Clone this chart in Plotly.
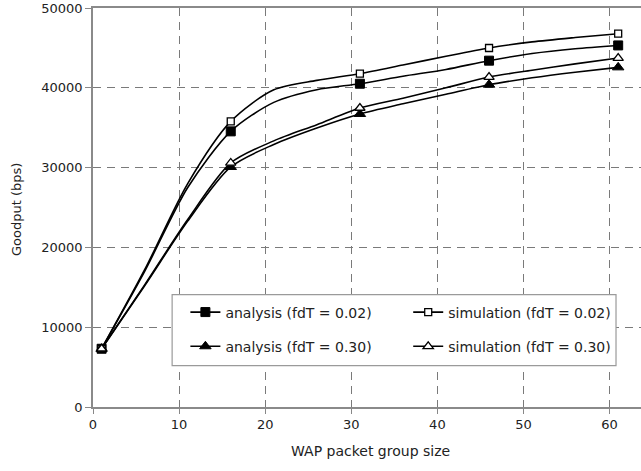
import plotly.graph_objects as go

# ---- data ----
x_line = [1, 6, 11, 16, 21, 26, 31, 36, 41, 46, 51, 56, 61]
x_mark = [1, 16, 31, 46, 61]
mark_idx = [0, 3, 6, 9, 12]

analysis_002 = [7300, 17000, 27500, 34540, 38170, 39760, 40510, 41450, 42300, 43400, 44300, 44900, 45310]
simulation_002 = [7300, 17200, 28000, 35790, 39750, 40930, 41770, 42850, 43950, 44990, 45750, 46300, 46780]
analysis_030 = [7300, 15200, 23300, 30080, 32900, 34960, 36720, 38000, 39200, 40390, 41250, 41950, 42560]
simulation_030 = [7300, 15300, 23500, 30580, 33350, 35380, 37470, 38700, 40000, 41350, 42200, 43000, 43730]

series_names = ["analysis (fdT = 0.02)", "simulation (fdT = 0.02)",
                "analysis (fdT = 0.30)", "simulation (fdT = 0.30)"]
x_ticks = [0, 10, 20, 30, 40, 50, 60]
y_ticks = [0, 10000, 20000, 30000, 40000, 50000]
y_ticktext = ["0", "10000", "20000", "30000", "40000", "50000"]

FONT = "DejaVu Sans"
series = [analysis_002, simulation_002, analysis_030, simulation_030]
markers = [
    dict(symbol="square", size=9, color="black", line=dict(color="black", width=1)),
    dict(symbol="square", size=7, color="white", line=dict(color="black", width=1.3)),
    dict(symbol="triangle-up", size=10, color="black", line=dict(color="black", width=1)),
    dict(symbol="triangle-up", size=9, color="white", line=dict(color="black", width=1.3)),
]
legends = ["legend", "legend2", "legend", "legend2"]

fig = go.Figure()
for vals in series:
    fig.add_trace(go.Scatter(x=x_line, y=vals, mode="lines",
                             line=dict(color="black", width=1.6, shape="spline", smoothing=0.8),
                             showlegend=False, hoverinfo="skip"))
for vals, mk in zip(series, markers):
    fig.add_trace(go.Scatter(x=x_mark, y=[vals[i] for i in mark_idx], mode="markers",
                             marker=mk, showlegend=False))
for i, (name, mk, lg) in enumerate(zip(series_names, markers, legends)):
    fig.add_trace(go.Scatter(x=[None], y=[None], mode="lines+markers", name=name,
                             marker=mk, line=dict(color="black", width=1.6),
                             legend=lg, legendgroup=f"g{i}"))

grid = dict(showgrid=True, gridcolor="#7a7a7a", gridwidth=1, griddash="8px,6px")
fig.update_layout(
    width=641, height=471,
    margin=dict(l=93, r=0, t=8, b=64),
    paper_bgcolor="white", plot_bgcolor="white",
    font=dict(family=FONT, size=13, color="#222"),
    xaxis=dict(range=[0, 63.65], tickvals=x_ticks, ticks="outside", ticklen=5,
               tickcolor="#888", linecolor="#8a8a8a", linewidth=1.5, mirror=True,
               showline=True, zeroline=False, tickfont=dict(size=13), **grid),
    yaxis=dict(range=[0, 50000], tickvals=y_ticks, ticktext=y_ticktext, ticks="outside", ticklen=6,
               tickcolor="#888", linecolor="#8a8a8a", linewidth=1.5, showline=True,
               zeroline=False, tickfont=dict(size=13), **grid),
    legend=dict(x=0.1686, y=0.277, xanchor="left", yanchor="top",
                bgcolor="rgba(0,0,0,0)", borderwidth=0, tracegroupgap=13,
                font=dict(family=FONT, size=14, color="#222")),
    legend2=dict(x=0.5752, y=0.277, xanchor="left", yanchor="top",
                 bgcolor="rgba(0,0,0,0)", borderwidth=0, tracegroupgap=13,
                 font=dict(family=FONT, size=14, color="#222")),
    shapes=[dict(type="rect", xref="paper", yref="paper",
                 x0=0.1444, x1=0.9544, y0=0.1035, y1=0.2815,
                 fillcolor="white", line=dict(color="#9a9a9a", width=1.2), layer="above")],
    annotations=[
        dict(text="WAP packet group size", xref="paper", yref="paper", x=(370 - 93) / 548,
             y=-0.11, xanchor="center", yanchor="middle", showarrow=False,
             font=dict(family=FONT, size=14, color="#222")),
        dict(text="Goodput (bps)", xref="paper", yref="paper", x=-0.14,
             y=(407.3 - 210) / 399, xanchor="center", yanchor="middle", showarrow=False,
             textangle=-90, font=dict(family=FONT, size=13, color="#222")),
    ],
)
fig.write_html("out.html")
